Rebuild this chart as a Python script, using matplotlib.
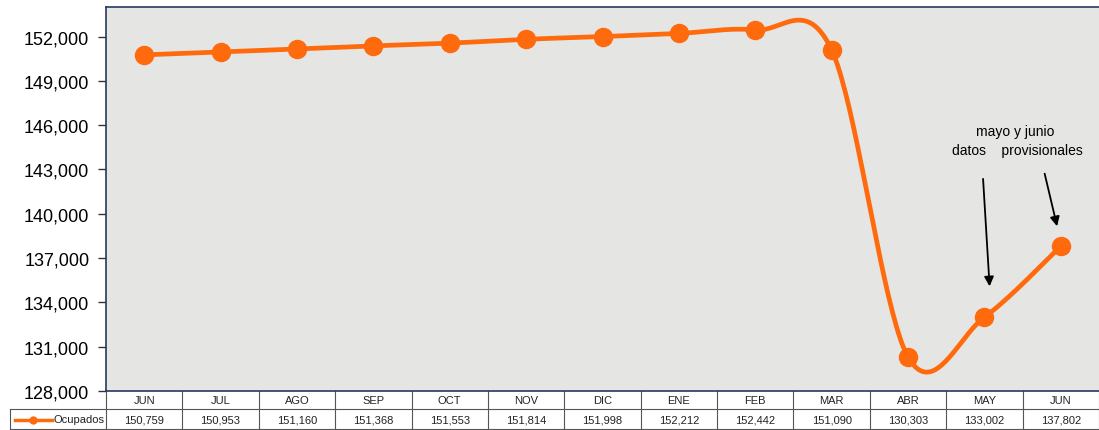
import numpy as np
import matplotlib.pyplot as plt
from matplotlib.lines import Line2D

months = ['JUN', 'JUL', 'AGO', 'SEP', 'OCT', 'NOV', 'DIC', 'ENE', 'FEB', 'MAR', 'ABR', 'MAY', 'JUN']
ocupados = [150759, 150953, 151160, 151368, 151553, 151814, 151998, 152212, 152442, 151090, 130303, 133002, 137802]
value_labels = ['150,759', '150,953', '151,160', '151,368', '151,553', '151,814', '151,998',
                '152,212', '152,442', '151,090', '130,303', '133,002', '137,802']
series_name = 'Ocupados'
yticks = [128000, 131000, 134000, 137000, 140000, 143000, 146000, 149000, 152000]

orange = '#FF6A0D'
plt.rcParams['font.family'] = ['Liberation Sans', 'DejaVu Sans']


def smooth_curve(xs, ys, steps=40):
    # Excel-style smoothed line: cubic bezier with 1/6 neighbour tangents
    pts = np.column_stack([xs, ys]).astype(float)
    n = len(pts)
    out = []
    for i in range(n - 1):
        p0 = pts[max(i - 1, 0)]
        p1 = pts[i]
        p2 = pts[i + 1]
        p3 = pts[min(i + 2, n - 1)]
        c1 = p1 + (p2 - p0) / 6
        c2 = p2 - (p3 - p1) / 6
        t = np.linspace(0, 1, steps)[:, None]
        seg = ((1 - t) ** 3) * p1 + 3 * ((1 - t) ** 2) * t * c1 + 3 * (1 - t) * t ** 2 * c2 + t ** 3 * p2
        out.append(seg)
    out = np.vstack(out)
    return out[:, 0], out[:, 1]


fig = plt.figure(figsize=(10.99, 4.31), dpi=100)
ax = fig.add_axes([106 / 1099, 1 - 392 / 431, 993 / 1099, 384 / 431])
ax.set_facecolor('#e5e5e3')

x = np.arange(len(months))
sx, sy = smooth_curve(x, ocupados)
ax.plot(sx, sy, color=orange, lw=3.4, solid_capstyle='round', zorder=3)
ax.plot(x, ocupados, 'o', color=orange, ms=13, zorder=4)

ax.set_xlim(-0.5, len(months) - 0.5)
ax.set_ylim(128000, 154000)
ax.set_yticks(yticks)
ax.set_yticklabels([f'{v:,}' for v in yticks], fontsize=13)
ax.set_xticks([])
ax.tick_params(axis='y', direction='out', length=6, width=1, color='#333333', pad=6)
for side in ['left', 'top', 'bottom']:
    ax.spines[side].set_color('#243a5e')
    ax.spines[side].set_linewidth(1.2)
ax.spines['right'].set_visible(False)

# annotation
ax.text(11.4, 145600, 'mayo y junio', ha='center', va='center', fontsize=10)
ax.text(11.43, 144300, 'datos    provisionales', ha='center', va='center', fontsize=10)
ax.annotate('', xy=(11.07, 134900), xytext=(10.98, 142550),
            arrowprops=dict(arrowstyle='-|>', color='black', lw=1.3, mutation_scale=14))
ax.annotate('', xy=(11.96, 138970), xytext=(11.78, 142900),
            arrowprops=dict(arrowstyle='-|>', color='black', lw=1.3, mutation_scale=14))

# data table under the axes
trans = ax.get_xaxis_transform()
h1 = 18 / 384
h2 = 21 / 384
line_kw = dict(color='#555555', lw=0.8, clip_on=False, transform=trans)
for i in range(len(months) + 1):
    ax.add_line(Line2D([i - 0.5, i - 0.5], [0, -(h1 + h2)], **line_kw))
ax.add_line(Line2D([-0.5, len(months) - 0.5], [-h1, -h1], **line_kw))
ax.add_line(Line2D([-0.5, len(months) - 0.5], [-(h1 + h2) + 0.003, -(h1 + h2) + 0.003], **line_kw))

lab_left = -0.5 - 96 / (993 / len(months))
ax.add_line(Line2D([lab_left, -0.5], [-h1, -h1], **line_kw))
ax.add_line(Line2D([lab_left, lab_left], [-h1, -(h1 + h2)], **line_kw))
ax.add_line(Line2D([lab_left, -0.5], [-(h1 + h2) + 0.003, -(h1 + h2) + 0.003], **line_kw))

for i, m in enumerate(months):
    ax.text(i, -h1 / 2, m, transform=trans, ha='center', va='center', fontsize=8, color='#222222')
    ax.text(i, -h1 - h2 / 2, value_labels[i], transform=trans, ha='center', va='center',
            fontsize=8, color='#222222')

ax.text(-0.52, -h1 - h2 / 2, series_name, transform=trans, ha='right', va='center',
        fontsize=8, color='#222222')
key_x0 = lab_left + 0.06
key_x1 = lab_left + 0.55
ax.add_line(Line2D([key_x0, key_x1], [-h1 - h2 / 2] * 2, color=orange, lw=2.5,
                   clip_on=False, transform=trans))
ax.add_line(Line2D([(key_x0 + key_x1) / 2], [-h1 - h2 / 2], color=orange, marker='o', ms=5,
                   clip_on=False, transform=trans))

fig.savefig('out.png', dpi=100)
